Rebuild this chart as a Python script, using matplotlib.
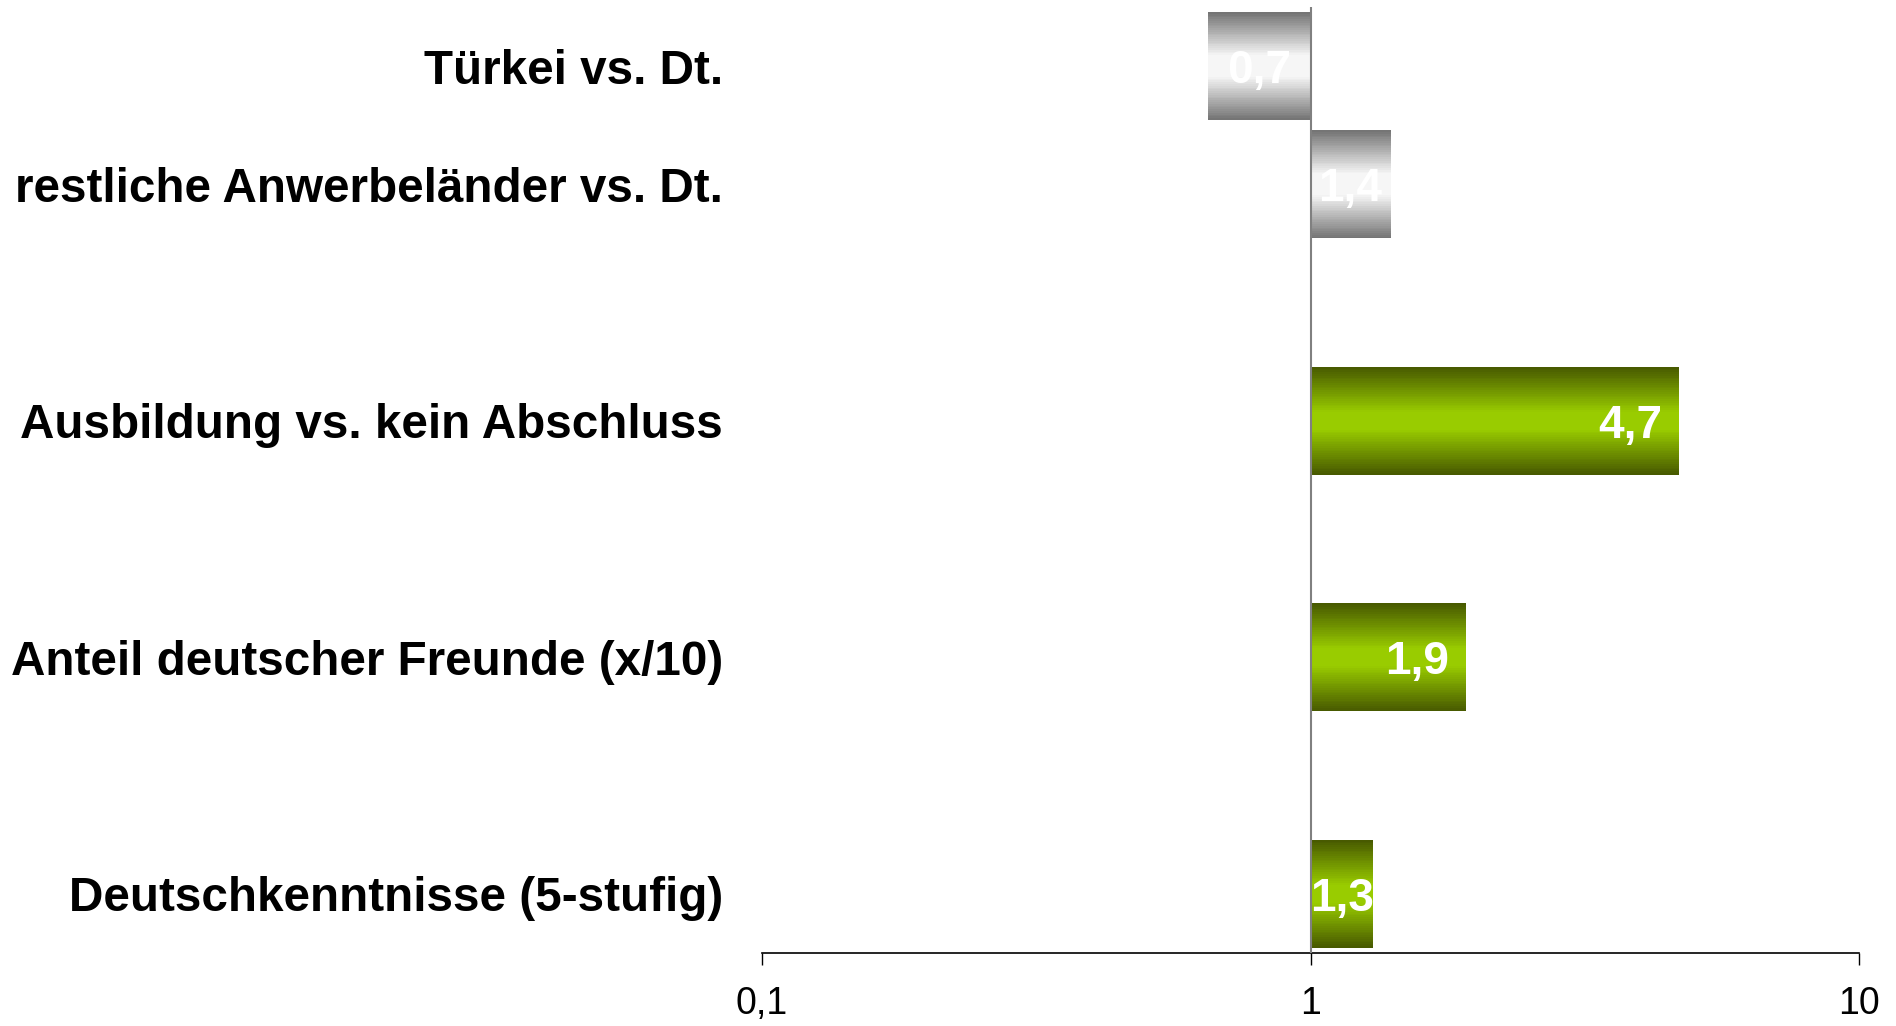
import numpy as np
import matplotlib.pyplot as plt
from matplotlib.colors import LinearSegmentedColormap

# data (odds ratios, log scale)
categories = [
    "Türkei vs. Dt.",
    "restliche Anwerbeländer vs. Dt.",
    "Ausbildung vs. kein Abschluss",
    "Anteil deutscher Freunde (x/10)",
    "Deutschkenntnisse (5-stufig)",
]
odds = [0.65, 1.4, 4.7, 1.92, 1.3]
value_labels = ["0,7", "1,4", "4,7", "1,9", "1,3"]
groups = ["origin", "origin", "other", "other", "other"]
tick_values = [0.1, 1, 10]
tick_labels = ["0,1", "1", "10"]

# layout: first two bars sit half a slot apart
slots = [0, 0.5, 1.5, 2.5, 3.5]
bar_h = 0.457

cmaps = {
    "origin": LinearSegmentedColormap.from_list(
        "grey", [(0, "#757575"), (0.4, "#f6f6f6"), (0.6, "#f6f6f6"), (1, "#757575")]
    ),
    "other": LinearSegmentedColormap.from_list(
        "green", [(0, "#485a00"), (0.42, "#99cc00"), (0.58, "#99cc00"), (1, "#485a00")]
    ),
}

plt.rcParams["font.family"] = ["Liberation Sans", "DejaVu Sans"]

fig = plt.figure(figsize=(18.96, 10.26), dpi=100)
ax = fig.add_axes([0.4019, 0.0712, 0.5786, 0.922])
ax.set_xscale("log")

# gradient bars drawn as thin horizontal strips
n_strips = 60
for pos, val, grp in zip(slots, odds, groups):
    cmap = cmaps[grp]
    for k in range(n_strips):
        y0 = pos - bar_h / 2 + (k + 0.5) * bar_h / n_strips
        ax.barh(y0, val - 1, left=1, height=bar_h / n_strips * 1.05,
                color=cmap(k / (n_strips - 1)), linewidth=0, zorder=2)

ax.axvline(1, color="#808080", lw=1.5, zorder=3)

# value labels: centred in short bars, right-aligned in long ones
for pos, val, txt in zip(slots, odds, value_labels):
    decades = abs(np.log10(val))
    if decades < 0.2:
        ax.annotate(txt, (np.sqrt(val), pos), ha="center", va="center_baseline",
                    color="white", fontsize=33, fontweight="bold", zorder=4)
    else:
        ax.annotate(txt, (val, pos), xytext=(-12, 0), textcoords="offset points",
                    ha="right", va="center_baseline",
                    color="white", fontsize=33, fontweight="bold", zorder=4)

ax.set_xlim(0.1, 10)
ax.set_ylim(3.75, -0.25)

ax.set_yticks(slots)
ax.set_yticklabels(categories, fontsize=34.3, fontweight="bold")
ax.tick_params(axis="y", length=0, pad=28)

ax.minorticks_off()
ax.set_xticks(tick_values)
ax.set_xticklabels(tick_labels, fontsize=27)
ax.tick_params(axis="x", direction="out", length=8.6, width=1, pad=15, colors="black")

for side in ["top", "right", "left"]:
    ax.spines[side].set_visible(False)
ax.spines["bottom"].set_linewidth(1.2)
ax.spines["bottom"].set_color("black")

fig.savefig("out.png", dpi=100, facecolor="white")
